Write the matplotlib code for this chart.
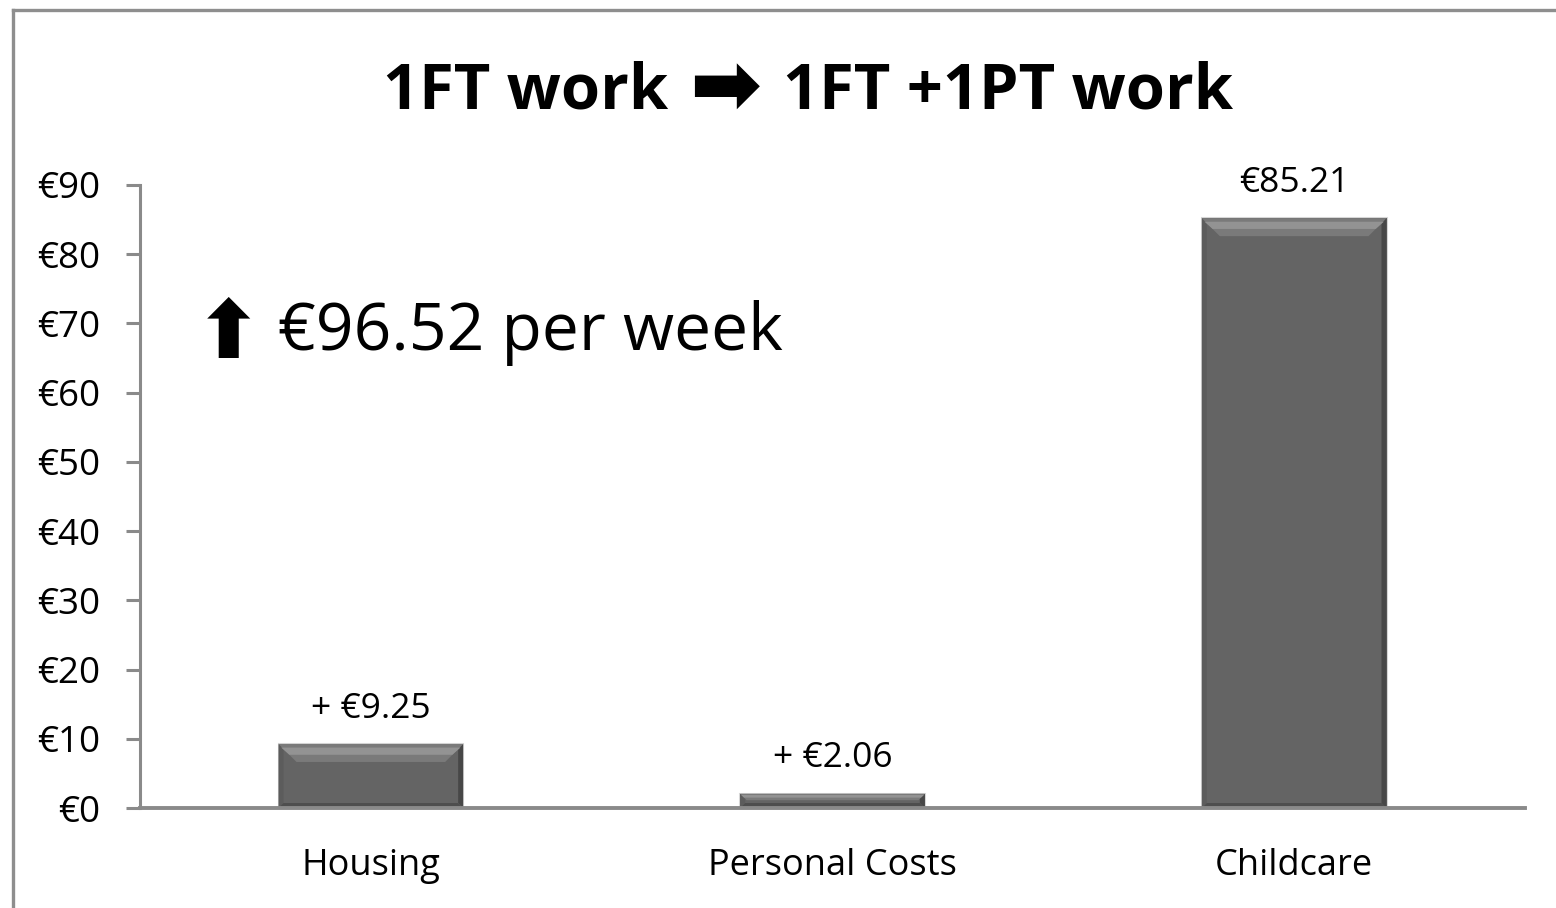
import matplotlib.pyplot as plt
from matplotlib.patches import Polygon
from matplotlib.lines import Line2D
from matplotlib.transforms import IdentityTransform

# chart data
categories = ["Housing", "Personal Costs", "Childcare"]
values = [9.25, 2.06, 85.21]
value_labels = ["+ €9.25", "+ €2.06", "€85.21"]
y_ticks = [0, 10, 20, 30, 40, 50, 60, 70, 80, 90]
y_tick_labels = ["€" + str(t) for t in y_ticks]
title_left = "1FT work"
title_right = "1FT +1PT work"
total_text = "€96.52 per week"

plt.rcParams['font.family'] = ['Open Sans', 'DejaVu Sans']

fig = plt.figure(figsize=(15.56, 9.08), dpi=100)
ax = fig.add_axes([140 / 1556, 1 - 808 / 908, 1385 / 1556, 623 / 908])

# outer frame (only left and top visible in the reference)
frame_col = "#8e8e8e"
fig.add_artist(Line2D([13 / 1556, 13 / 1556], [0, 1 - 10 / 908], color=frame_col, lw=2.4,
                      transform=fig.transFigure))
fig.add_artist(Line2D([13 / 1556, 1], [1 - 10 / 908, 1 - 10 / 908], color=frame_col, lw=2.4,
                      transform=fig.transFigure))

x = list(range(len(categories)))
bars = ax.bar(x, values, width=0.4, color="#646464", zorder=2)

ax.set_xlim(-0.5, len(categories) - 0.5)
ax.set_ylim(0, 90)
ax.set_yticks(y_ticks)
ax.set_yticklabels(y_tick_labels)
ax.set_xticks(x)
ax.set_xticklabels(categories)

for s in ["top", "right"]:
    ax.spines[s].set_visible(False)
ax.spines["left"].set_color("#8a8a8a")
ax.spines["bottom"].set_color("#8a8a8a")
ax.spines["left"].set_linewidth(2.2)
ax.spines["bottom"].set_linewidth(2.8)
ax.spines["bottom"].set_zorder(3)
ax.tick_params(axis="y", direction="out", length=10, width=2.2, color="#8a8a8a",
               labelsize=26.5, pad=18.5)
ax.tick_params(axis="x", length=0, labelsize=26, pad=29)

# bevel on each bar, built from the bar's own geometry in pixels
for b in bars:
    (x0, y0), (x1, y1) = ax.transData.transform([(b.get_x(), 0),
                                                  (b.get_x() + b.get_width(), b.get_height())])
    d = min(18, (y1 - y0) / 2.2, (x1 - x0) / 2.2)
    e = min(5, d)
    faces = [
        ([(x0, y0), (x0, y1), (x0 + e, y1 - e), (x0 + e, y0 + e)], "#5c5c5c"),
        ([(x1, y0), (x1, y1), (x1 - e, y1 - e), (x1 - e, y0 + e)], "#474747"),
        ([(x0, y0), (x1, y0), (x1 - e, y0 + e), (x0 + e, y0 + e)], "#4e4e4e"),
        ([(x0, y1), (x1, y1), (x1 - d, y1 - d), (x0 + d, y1 - d)], "#7a7a7a"),
        ([(x0 + d * 0.15, y1 - d * 0.2), (x1 - d * 0.15, y1 - d * 0.2),
          (x1 - d * 0.6, y1 - d * 0.6), (x0 + d * 0.6, y1 - d * 0.6)], "#939393"),
    ]
    for pts, c in faces:
        ax.add_patch(Polygon(pts, closed=True, facecolor=c, edgecolor="none",
                             transform=IdentityTransform(), zorder=2.5))
    ax.add_patch(Polygon([(x0, y0), (x0, y1), (x1, y1), (x1, y0)], closed=True,
                         facecolor="none", edgecolor="#d6d6d6", lw=1.5,
                         transform=IdentityTransform(), zorder=1.5))

for xi, v, lab in zip(x, values, value_labels):
    ax.annotate(lab, (xi, v), xytext=(0, 19), textcoords="offset points",
                ha="center", va="baseline", fontsize=25.5)

# title: two bold parts with a heavy arrow between
fig.text(668 / 1556, 1 - 92 / 908, title_left, ha="right", va="center",
         fontsize=45.5, fontweight="bold")
fig.text(725 / 1556, 1 - 90 / 908, "\u27a1", ha="center", va="center",
         fontsize=62, fontweight="bold", family=["DejaVu Sans"])
fig.text(783 / 1556, 1 - 92 / 908, title_right, ha="left", va="center",
         fontsize=45.5, fontweight="bold")

fig.text(229 / 1556, 1 - 336 / 908, "\u2b06", ha="center", va="center",
         fontsize=58, fontweight="bold", family=["DejaVu Sans"])
fig.text(278 / 1556, 1 - 333 / 908, total_text, ha="left", va="center", fontsize=47.5)

fig.savefig("out.png", dpi=100)
